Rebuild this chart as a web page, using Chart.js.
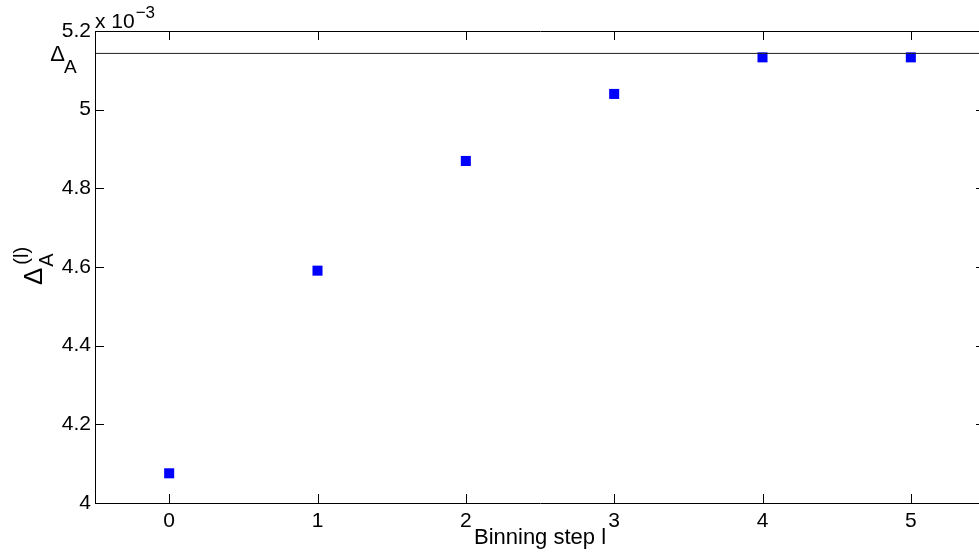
<!DOCTYPE html>
<html>
<head>
<meta charset="utf-8">
<title>Binning analysis</title>
<script src="https://cdn.jsdelivr.net/npm/chart.js@4.4.1/dist/chart.umd.min.js"></script>
<style>
  html, body { margin: 0; padding: 0; background: #fff; overflow: hidden; }
  #wrap { width: 1000px; height: 557px; }
</style>
</head>
<body>
<div id="wrap"><canvas id="binChart" width="1000" height="557"></canvas></div>
<script>
/* ── Dados (unidades de 10^-3) ── */
const steps      = [0, 1, 2, 3, 4, 5];
const deltaL     = [4.0755, 4.5907, 4.8696, 5.040, 5.133, 5.133];
const deltaInf   = 5.143;
const xRange     = [-0.5, 5.5];
const yRange     = [4, 5.2];
const yTickStep  = 0.2;
const xLabel     = 'Binning step l';
const expLabel   = ['x 10', '−3'];

const FONT = "'Liberation Sans', Arial, Helvetica, sans-serif";
const INK  = '#000';
const TICK = 9;

/* ── Caixa estilo MATLAB com ticks para dentro ── */
const boxPlugin = {
  id: 'matlabBox',
  afterDraw(chart) {
    const { ctx, chartArea: a, scales: { x, y } } = chart;
    ctx.save();
    ctx.strokeStyle = INK;
    ctx.lineWidth = 1;
    ctx.beginPath();
    ctx.rect(Math.round(a.left) + 0.5, Math.round(a.top) + 0.5,
             Math.round(a.right - a.left), Math.round(a.bottom - a.top));
    ctx.stroke();

    ctx.beginPath();
    x.ticks.forEach(t => {
      const px = Math.round(x.getPixelForValue(t.value)) + 0.5;
      ctx.moveTo(px, a.bottom); ctx.lineTo(px, a.bottom - TICK);
      ctx.moveTo(px, a.top);    ctx.lineTo(px, a.top + TICK);
    });
    y.ticks.forEach(t => {
      const py = Math.round(y.getPixelForValue(t.value)) + 0.5;
      ctx.moveTo(a.left, py);  ctx.lineTo(a.left + TICK, py);
      ctx.moveTo(a.right, py); ctx.lineTo(a.right - TICK, py);
    });
    ctx.stroke();

    // multiplicador do eixo y
    ctx.fillStyle = INK;
    ctx.textAlign = 'left';
    ctx.textBaseline = 'alphabetic';
    ctx.font = `21px ${FONT}`;
    ctx.fillText(expLabel[0], a.left, a.top - 3);
    const w = ctx.measureText(expLabel[0]).width;
    ctx.font = `17px ${FONT}`;
    ctx.fillText(expLabel[1], a.left + w + 1, a.top - 13);

    // rótulo da linha limite
    const ly = y.getPixelForValue(deltaInf);
    ctx.font = `22px ${FONT}`;
    ctx.textAlign = 'right';
    ctx.fillText('Δ', 65, ly + 8);
    ctx.font = `19px ${FONT}`;
    ctx.textAlign = 'left';
    ctx.fillText('A', 64, ly + 20);

    // título do eixo x
    ctx.font = `22px ${FONT}`;
    ctx.textAlign = 'center';
    ctx.fillText(xLabel, (a.left + a.right) / 2, 544);

    // título do eixo y (rotacionado)
    const cy = (a.top + a.bottom) / 2;
    ctx.translate(42, cy + 18);
    ctx.rotate(-Math.PI / 2);
    ctx.textAlign = 'left';
    ctx.font = `26px ${FONT}`;
    ctx.fillText('Δ', 0, 0);
    const dw = ctx.measureText('Δ').width;
    ctx.font = `20px ${FONT}`;
    ctx.fillText('A', dw + 1, 11);
    ctx.fillText('(l)', dw + 3, -14);
    ctx.restore();
  }
};

new Chart(document.getElementById('binChart'), {
  type: 'scatter',
  data: {
    datasets: [
      {
        label: 'limite',
        type: 'line',
        data: xRange.map(v => ({ x: v, y: deltaInf })),
        borderColor: '#222',
        borderWidth: 1,
        pointRadius: 0,
        fill: false,
      },
      {
        label: 'Delta_A(l)',
        data: steps.map((s, i) => ({ x: s, y: deltaL[i] })),
        pointStyle: 'rect',
        pointRadius: 7.1,
        pointBorderWidth: 0,
        backgroundColor: '#0000ff',
        borderColor: '#0000ff',
      }
    ]
  },
  options: {
    responsive: false,
    animation: false,
    layout: { padding: { top: 31, right: 15, left: 0, bottom: 0 } },
    plugins: { legend: { display: false }, tooltip: { enabled: false } },
    scales: {
      x: {
        type: 'linear',
        min: xRange[0], max: xRange[1],
        afterBuildTicks: s => { s.ticks = steps.map(v => ({ value: v })); },
        afterFit: s => { s.height = 54; },
        grid: { display: false, drawTicks: false },
        border: { display: false },
        ticks: { color: INK, font: { family: FONT, size: 21 }, padding: 6 }
      },
      y: {
        type: 'linear',
        min: yRange[0], max: yRange[1],
        ticks: {
          stepSize: yTickStep, color: INK, padding: 4,
          font: { family: FONT, size: 21 },
          callback: v => +v.toFixed(1) + ''
        },
        afterFit: s => { s.width = 95; },
        grid: { display: false, drawTicks: false },
        border: { display: false }
      }
    }
  },
  plugins: [boxPlugin]
});
</script>
</body>
</html>
